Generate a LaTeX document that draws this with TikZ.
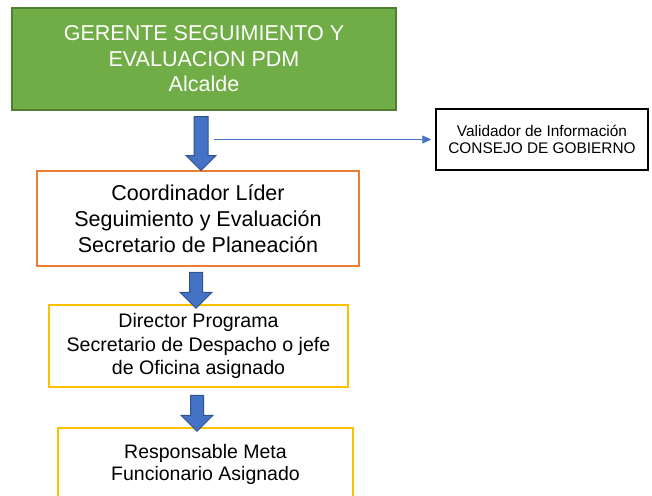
\documentclass[tikz,border=0pt]{standalone}
\usepackage{fontspec}
\setmainfont{Liberation Sans}
\usetikzlibrary{shapes.arrows, arrows.meta, positioning}

\definecolor{gerentegreen}{HTML}{70AD47}
\definecolor{gerenteedge}{HTML}{507E32}
\definecolor{coordorange}{HTML}{ED7D31}
\definecolor{progyellow}{HTML}{FFC000}
\definecolor{flowblue}{HTML}{4472C4}
\definecolor{flowedge}{HTML}{2F528F}

\begin{document}
\begin{tikzpicture}[x=1pt, y=-1pt,
    box/.style={draw, line width=1.5pt, rectangle, fill=white, inner sep=0pt, align=center},
    bigarrow/.style={single arrow, shape border rotate=270, draw=flowedge, fill=flowblue,
                     line width=1pt, single arrow tip angle=90,
                     single arrow head indent=0pt},
    link/.style={draw=flowblue, line width=0.75pt, -{Triangle[length=9pt, width=8pt]}}
]
    \clip (0,0) rectangle (652,495);

    % --- Cargos ---
    \node[box, fill=gerentegreen, draw=gerenteedge, text=white,
          minimum width=384pt, minimum height=102pt,
          font=\fontsize{21.5}{25.5}\selectfont] (gerente) at (204,59)
        {GERENTE SEGUIMIENTO Y\\EVALUACION PDM\\Alcalde};
    \node[box, draw=coordorange, minimum width=322pt, minimum height=95pt,
          font=\fontsize{21.5}{26}\selectfont] (coord) at (198,218.5)
        {Coordinador Líder\\Seguimiento y Evaluación\\Secretario de Planeación};
    \node[box, draw=progyellow, minimum width=299pt, minimum height=82pt,
          font=\fontsize{19.6}{23.5}\selectfont] (director) at (198.5,346)
        {Director Programa\\Secretario de Despacho o jefe\\de Oficina asignado};
    \node[box, draw=progyellow, minimum width=295pt, minimum height=72pt,
          font=\fontsize{19.5}{22}\selectfont] (meta) at (205.5,464)
        {Responsable Meta\\Funcionario Asignado};
    \node[box, draw=black, minimum width=212pt, minimum height=61pt,
          font=\fontsize{15.4}{17}\selectfont] (validador) at (542,139.5)
        {Validador de Información\\CONSEJO DE GOBIERNO};

    % --- Flechas ---
    \node[bigarrow, inner sep=6.5pt, minimum height=54pt,
          single arrow head extend=8pt] (flecha1) at (201,140) {};
    \node[bigarrow, inner sep=6pt, minimum height=36pt,
          single arrow head extend=9.5pt] (flecha2) at (196,287) {};
    \node[bigarrow, inner sep=6pt, minimum height=36pt,
          single arrow head extend=9.5pt] (flecha3) at (197,410) {};

    % --- Validacion ---
    \coordinate (salida) at (214,139.5);
    \draw[link, shorten >=4pt] (salida) -- (validador.west);
\end{tikzpicture}
\end{document}
